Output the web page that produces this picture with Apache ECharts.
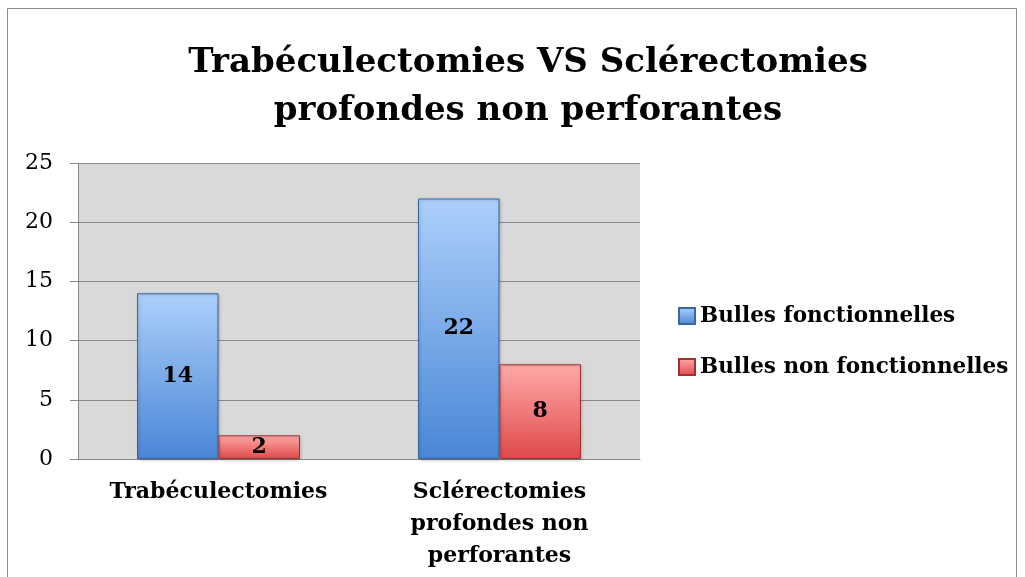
<!DOCTYPE html>
<html>
<head>
<meta charset="utf-8">
<script src="https://cdn.jsdelivr.net/npm/echarts@6/dist/echarts.min.js"></script>
<style>
  html, body { margin: 0; padding: 0; background: #fff; }
  #chart { width: 1025px; height: 577px; }
</style>
</head>
<body>
<div id="chart"></div>
<script>
const categories = ["Trabéculectomies", "Sclérectomies\nprofondes non\nperforantes"];
const seriesNames = ["Bulles fonctionnelles", "Bulles non fonctionnelles"];
const fonctionnelles = [14, 22];
const nonFonctionnelles = [2, 8];

const font = "DejaVu Serif";

const chart = echarts.init(document.getElementById("chart"), null, { renderer: "canvas" });

const blueFill = new echarts.graphic.LinearGradient(0, 0, 0, 1, [
    { offset: 0, color: "#acd0fb" },
    { offset: 1, color: "#4a86d6" },
]);
const redFill = new echarts.graphic.LinearGradient(0, 0, 0, 1, [
    { offset: 0, color: "#ffaaa8" },
    { offset: 1, color: "#e0494a" },
]);

const valueLabel = {
    show: true,
    position: "inside",
    color: "#000",
    fontFamily: font,
    fontWeight: "bold",
    fontSize: 22,
};

chart.setOption({
    animation: false,
    textStyle: { fontFamily: font },
    graphic: [
        {
            type: "rect",
            shape: { x: 7.5, y: 8.5, width: 1009, height: 600 },
            style: { fill: "none", stroke: "#8c8c8c", lineWidth: 1 },
            silent: true,
        },
    ],
    title: {
        text: "Trabéculectomies VS Sclérectomies\nprofondes non perforantes",
        left: 523,
        top: 34,
        textAlign: "center",
        textStyle: {
            fontFamily: font,
            fontWeight: "bold",
            fontSize: 34,
            lineHeight: 48,
            color: "#000",
        },
    },
    legend: {
        orient: "vertical",
        left: 678,
        top: 305,
        padding: 0,
        itemWidth: 16,
        itemHeight: 16,
        itemGap: 29,
        icon: "rect",
        textStyle: { fontFamily: font, fontWeight: "bold", fontSize: 21.5, color: "#000" },
        data: seriesNames,
    },
    grid: { left: 78, right: 385, top: 163, bottom: 118 },
    xAxis: {
        type: "category",
        data: categories,
        axisLine: { lineStyle: { color: "#888", width: 1 } },
        axisTick: { length: 6, lineStyle: { color: "#888" } },
        axisLabel: {
            interval: 0,
            margin: 17,
            fontFamily: font,
            fontWeight: "bold",
            fontSize: 22,
            lineHeight: 32,
            color: "#000",
        },
    },
    yAxis: {
        type: "value",
        min: 0,
        max: 25,
        interval: 5,
        axisLine: { show: true, lineStyle: { color: "#888", width: 1 } },
        axisTick: { show: true, length: 8, lineStyle: { color: "#888" } },
        axisLabel: { margin: 25, fontFamily: font, fontSize: 22, color: "#000" },
        splitLine: { lineStyle: { color: "#8a8a8a", width: 1 } },
        splitArea: { show: true, areaStyle: { color: ["#d9d9d9", "#d9d9d9"] } },
    },
    series: [
        {
            name: seriesNames[0],
            type: "bar",
            data: fonctionnelles,
            barGap: "0%",
            barCategoryGap: "42%",
            itemStyle: {
                color: blueFill,
                borderColor: "#3a679f",
                borderWidth: 1,
                shadowColor: "rgba(0,0,0,0.25)",
                shadowBlur: 3,
                shadowOffsetX: 1,
                shadowOffsetY: 1,
            },
            label: valueLabel,
        },
        {
            name: seriesNames[1],
            type: "bar",
            data: nonFonctionnelles,
            barGap: "0%",
            barCategoryGap: "42%",
            itemStyle: {
                color: redFill,
                borderColor: "#9a3434",
                borderWidth: 1,
                shadowColor: "rgba(0,0,0,0.25)",
                shadowBlur: 3,
                shadowOffsetX: 1,
                shadowOffsetY: 1,
            },
            label: valueLabel,
        },
    ],
});
</script>
</body>
</html>
